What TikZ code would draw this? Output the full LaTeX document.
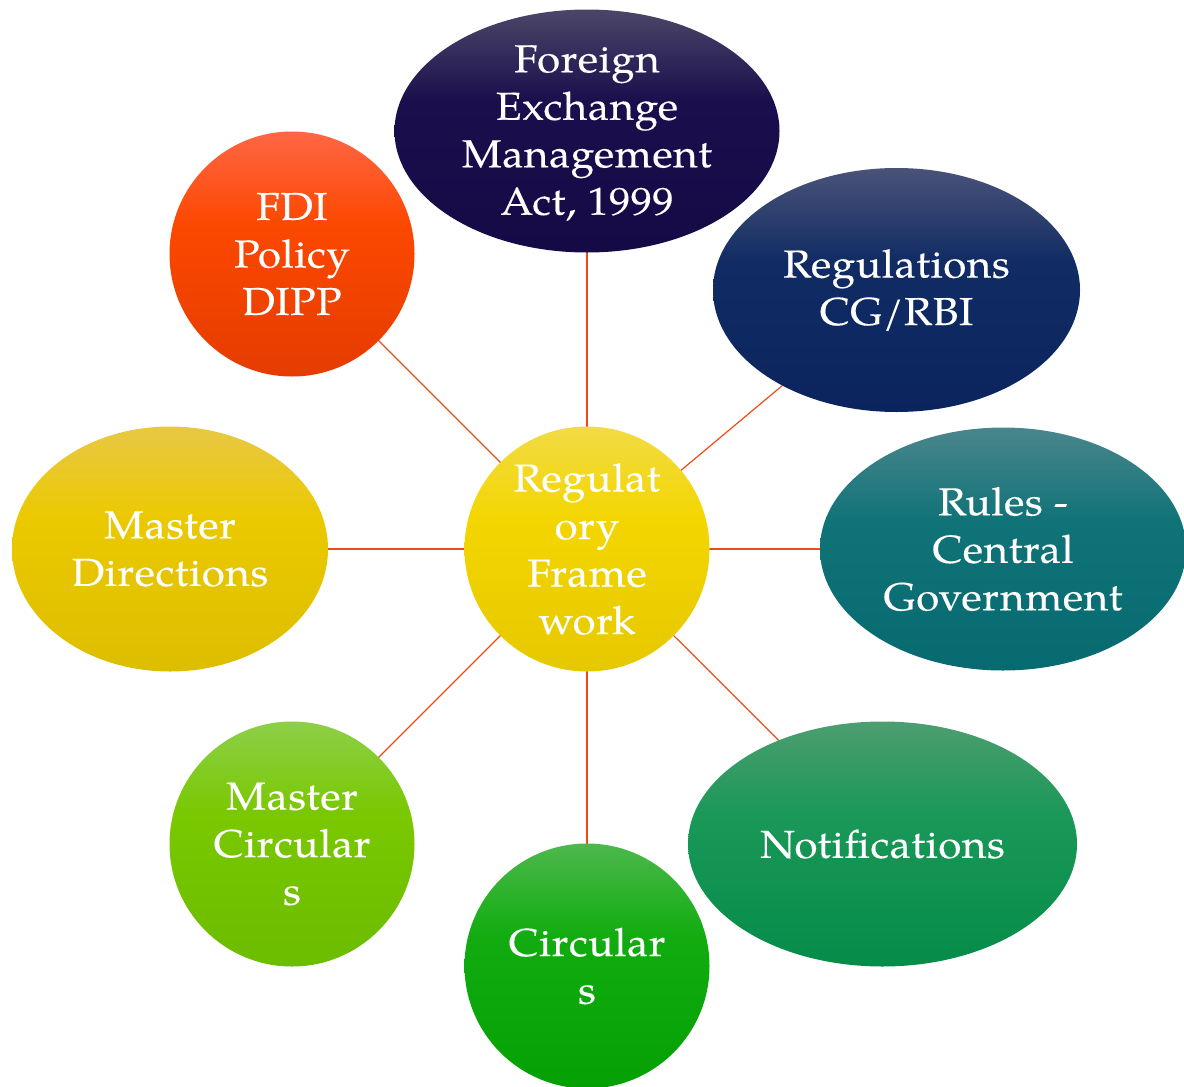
\documentclass[tikz,border=0pt]{standalone}
\usepackage{fontspec}
\setmainfont[FakeStretch=1.08,LetterSpace=1.5,FakeBold=0.2]{TeX Gyre Pagella}
\usetikzlibrary{shapes.geometric}
\definecolor{linkc}{HTML}{F04A18}
\definecolor{feA}{HTML}{4B4668}\definecolor{feB}{HTML}{1A0E4C}\definecolor{feC}{HTML}{150A46}
\definecolor{reA}{HTML}{4A5378}\definecolor{reB}{HTML}{112C64}\definecolor{reC}{HTML}{0B245E}
\definecolor{ruA}{HTML}{4A868C}\definecolor{ruB}{HTML}{107378}\definecolor{ruC}{HTML}{066A70}
\definecolor{noA}{HTML}{4C9E70}\definecolor{noB}{HTML}{1A9858}\definecolor{noC}{HTML}{058C48}
\definecolor{ciA}{HTML}{4CB84C}\definecolor{ciB}{HTML}{12AC10}\definecolor{ciC}{HTML}{04A004}
\definecolor{mcA}{HTML}{8DCF48}\definecolor{mcB}{HTML}{79C800}\definecolor{mcC}{HTML}{6CBC00}
\definecolor{mdA}{HTML}{E8C845}\definecolor{mdB}{HTML}{EBC900}\definecolor{mdC}{HTML}{DDBE00}
\definecolor{fdA}{HTML}{FF6645}\definecolor{fdB}{HTML}{FC4800}\definecolor{fdC}{HTML}{E53C00}
\definecolor{coA}{HTML}{F2DB45}\definecolor{coB}{HTML}{F3D600}\definecolor{coC}{HTML}{E6C800}
\newcommand\mkshade[1]{\pgfdeclareverticalshading{sh#1}{100bp}{color(0bp)=(#1C); color(25bp)=(#1C); color(56bp)=(#1B); color(75bp)=(#1A); color(100bp)=(#1A)}}
\mkshade{fe}\mkshade{re}\mkshade{ru}\mkshade{no}\mkshade{ci}\mkshade{mc}\mkshade{md}\mkshade{fd}\mkshade{co}
\tikzset{
  blob/.style args={#1/#2/#3}{ellipse, inner sep=0pt, minimum width=#1, minimum height=#2,
     shading=sh#3, draw=none},
  lbl/.style={text=white, align=center, font=\fontsize{39}{47.5}\selectfont, inner sep=0pt},
  link/.style={draw=linkc, line width=1.2pt}
}
\begin{document}
\begin{tikzpicture}[x=1pt,y=1pt]
\useasboundingbox (0,0) rectangle (1184,-1087);
\clip (0,0) rectangle (1184,-1087);
% coordinates
\coordinate (cC) at (587,-549);
\coordinate (cA) at (587,-131);
\coordinate (cR) at (896.5,-290);
\coordinate (cU) at (1003,-549);
\coordinate (cN) at (882.5,-844);
\coordinate (cS) at (587,-966);
\coordinate (cM) at (292,-844);
\coordinate (cD) at (170,-549);
\coordinate (cF) at (292,-254);
% connectors (center to center, behind shapes)
\foreach \t in {cA,cR,cU,cN,cS,cM,cD,cF}
  \draw[link] (cC) -- (\t);
% shapes
\node[blob={385pt/243pt/fe}] (fema) at (cA) {};
\node[blob={367pt/244pt/re}] (regs) at (cR) {};
\node[blob={366pt/243pt/ru}] (rules) at (cU) {};
\node[blob={389pt/245pt/no}] (notif) at (cN) {};
\node[blob={245pt/245pt/ci}] (circ) at (cS) {};
\node[blob={245pt/245pt/mc}] (mcirc) at (cM) {};
\node[blob={316pt/245pt/md}] (mdir) at (cD) {};
\node[blob={245pt/245pt/fd}] (fdi) at (cF) {};
\node[blob={245pt/245pt/co}] (core) at (cC) {};
% labels
\node[lbl] (tfema) at ([yshift=-2pt]fema.center) {Foreign\\Exchange\\Management\\Act, 1999};
\node[lbl] (tregs) at (regs.center) {Regulations\\CG/RBI};
\node[lbl] (trules) at (rules.center) {Rules -\\Central\\Government};
\node[lbl] (tnotif) at (notif.center) {Notifications};
\node[lbl] (tcirc) at (circ.center) {Circular\\s};
\node[lbl] (tmcirc) at (mcirc.center) {Master\\Circular\\s};
\node[lbl] (tmdir) at (mdir.center) {Master\\Directions};
\node[lbl] (tfdi) at (fdi.center) {FDI\\Policy\\DIPP};
\node[lbl] (tcore) at (core.center) {Regulat\\ory\\Frame\\work};
\end{tikzpicture}
\end{document}
